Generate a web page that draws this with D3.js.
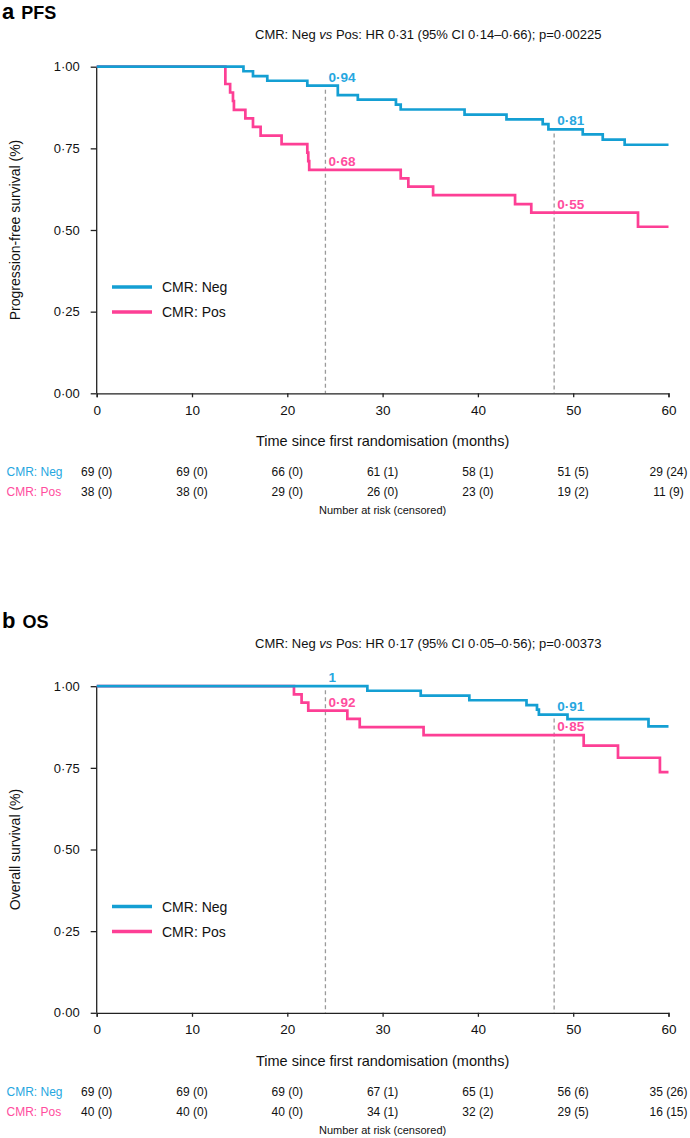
<!DOCTYPE html>
<html>
<head>
<meta charset="utf-8">
<script src="https://cdn.jsdelivr.net/npm/d3@7"></script>
<style>
  html, body { margin: 0; padding: 0; background: #fff; }
  svg { display: block; font-family: "Liberation Sans", Arial, Helvetica, sans-serif; }
</style>
</head>
<body>
<svg id="chart" width="690" height="1138"></svg>
<script>
// ---------- DATA ----------
const monthTicks = [0, 10, 20, 30, 40, 50, 60];
const survTicks = [0, 0.25, 0.5, 0.75, 1];
const groups = ["CMR: Neg", "CMR: Pos"];
const landmarkMonths = [24, 48];

// PFS – step times (months) and survival after each step
const pfsNegTime = [15.4, 16.4, 17.9, 22.1, 25.3, 27.4, 31.4, 31.9, 38.6, 43.0, 46.8, 47.4, 51.0, 53.1, 55.4];
const pfsNegSurv = [0.986, 0.971, 0.957, 0.942, 0.913, 0.899, 0.884, 0.869, 0.853, 0.839, 0.824, 0.808, 0.793, 0.777, 0.761];
const pfsPosTime = [13.5, 14.0, 14.3, 14.4, 15.6, 16.4, 17.2, 19.4, 22.1, 22.2, 22.3, 31.9, 32.7, 35.3, 43.9, 45.6, 56.8];
const pfsPosSurv = [0.947, 0.921, 0.895, 0.868, 0.842, 0.816, 0.789, 0.763, 0.737, 0.711, 0.684, 0.658, 0.633, 0.607, 0.579, 0.553, 0.510];
const pfsLandNeg = ["0·94", "0·81"];
const pfsLandPos = ["0·68", "0·55"];
const pfsLandNegVal = [0.942, 0.808];
const pfsLandPosVal = [0.684, 0.553];
const pfsRiskNeg = ["69 (0)", "69 (0)", "66 (0)", "61 (1)", "58 (1)", "51 (5)", "29 (24)"];
const pfsRiskPos = ["38 (0)", "38 (0)", "29 (0)", "26 (0)", "23 (0)", "19 (2)", "11 (9)"];

// OS
const osNegTime = [28.4, 34.0, 39.1, 45.1, 46.2, 46.4, 49.4, 57.9];
const osNegSurv = [0.986, 0.971, 0.957, 0.942, 0.928, 0.913, 0.899, 0.877];
const osPosTime = [20.7, 21.5, 22.2, 26.3, 27.6, 34.3, 51.1, 54.7, 59.1];
const osPosSurv = [0.975, 0.950, 0.925, 0.900, 0.875, 0.850, 0.818, 0.781, 0.737];
const osLandNeg = ["1", "0·91"];
const osLandPos = ["0·92", "0·85"];
const osLandNegVal = [1.0, 0.913];
const osLandPosVal = [0.925, 0.850];
const osRiskNeg = ["69 (0)", "69 (0)", "69 (0)", "67 (1)", "65 (1)", "56 (6)", "35 (26)"];
const osRiskPos = ["40 (0)", "40 (0)", "40 (0)", "34 (1)", "32 (2)", "29 (5)", "16 (15)"];

// ---------- STYLE ----------
const BLUE = "#149fd3";
const PINK = "#fd3f95";
const BLUE_TXT = "#27a7df";
const PINK_TXT = "#ff4d9e";

const svg = d3.select("#chart");
const X0 = 96.7, X1 = 668.5;
const x = d3.scaleLinear().domain([0, 60]).range([X0, X1]);
const fmtY = d => d3.format(".2f")(d).replace(".", "·");

function drawPanel(cfg) {
  const g = svg.append("g").attr("transform", `translate(0,${cfg.dy})`);
  const y = d3.scaleLinear().domain([0, 1]).range([393.3, 66.7]);

  // title + HR text (own offset)
  const gt = svg.append("g").attr("transform", `translate(0,${cfg.titleDy})`);
  const t = gt.append("text").attr("x", 2).attr("y", 18.5).attr("font-weight", "bold").attr("fill", "#000");
  t.append("tspan").attr("font-size", 22).text(cfg.letter);
  t.append("tspan").attr("font-size", 18).attr("dx", 7).text(cfg.title);

  const hr = gt.append("text").attr("x", 255).attr("y", 38.5).attr("font-size", 13).attr("fill", "#111");
  hr.append("tspan").text("CMR: Neg ");
  hr.append("tspan").attr("font-style", "italic").text("vs");
  hr.append("tspan").text(cfg.hr);

  // landmark dashed lines
  landmarkMonths.forEach((m, i) => {
    g.append("line")
      .attr("x1", x(m)).attr("x2", x(m))
      .attr("y1", y(cfg.landNegVal[i]) + 4).attr("y2", y(0))
      .attr("stroke", "#9a9a9a").attr("stroke-width", 1.3)
      .attr("stroke-dasharray", "4,3");
  });

  // axes
  const xAxis = d3.axisBottom(x).tickValues(monthTicks).tickSize(4).tickPadding(8).tickFormat(d3.format("d"));
  const gx = g.append("g").attr("transform", `translate(0,${y(0)})`).call(xAxis);
  gx.select(".domain").attr("stroke", "#222").attr("stroke-width", 1.3);
  gx.selectAll(".tick line").attr("stroke", "#222").attr("stroke-width", 1.3);
  gx.selectAll("text").attr("font-size", 13.5).attr("fill", "#111").attr("font-family", "Liberation Sans, Arial, sans-serif");

  const yAxis = d3.axisLeft(y).tickValues(survTicks).tickSize(6).tickPadding(11).tickFormat(fmtY);
  const gy = g.append("g").attr("transform", `translate(${X0},0)`).call(yAxis);
  gy.select(".domain").attr("stroke", "#222").attr("stroke-width", 1.3).attr("d", `M0,${y(1)}V${y(0)}`);
  gy.selectAll(".tick line").attr("stroke", "#222").attr("stroke-width", 1.3);
  gy.selectAll("text").attr("font-size", 13).attr("fill", "#111").attr("font-family", "Liberation Sans, Arial, sans-serif");

  // axis titles
  g.append("text").attr("x", (X0 + X1) / 2).attr("y", 446).attr("text-anchor", "middle")
    .attr("font-size", 14.5).attr("fill", "#111").text("Time since first randomisation (months)");
  g.append("text").attr("transform", `translate(20,${(y(0) + y(1)) / 2}) rotate(-90)`)
    .attr("text-anchor", "middle").attr("font-size", 14).attr("fill", "#111").text(cfg.ylabel);

  // curves
  const line = d3.line().x(d => x(d[0])).y(d => y(d[1])).curve(d3.curveStepAfter);
  const mk = (times, surv) => {
    const pts = [[0, 1]];
    times.forEach((tt, i) => pts.push([tt, surv[i]]));
    pts.push([60, surv[surv.length - 1]]);
    return pts;
  };
  g.append("path").datum(mk(cfg.posTime, cfg.posSurv)).attr("d", line)
    .attr("fill", "none").attr("stroke", PINK).attr("stroke-width", 2.7);
  g.append("path").datum(mk(cfg.negTime, cfg.negSurv)).attr("d", line)
    .attr("fill", "none").attr("stroke", BLUE).attr("stroke-width", 2.7);

  // landmark labels
  landmarkMonths.forEach((m, i) => {
    g.append("text").attr("x", x(m) + 3).attr("y", y(cfg.landNegVal[i]) - 4)
      .attr("font-size", 13.5).attr("font-weight", "bold").attr("fill", BLUE_TXT).text(cfg.landNeg[i]);
    g.append("text").attr("x", x(m) + 3).attr("y", y(cfg.landPosVal[i]) - 4)
      .attr("font-size", 13.5).attr("font-weight", "bold").attr("fill", PINK_TXT).text(cfg.landPos[i]);
  });

  // legend
  [[groups[0], BLUE, 287], [groups[1], PINK, 312]].forEach(([lab, col, ly]) => {
    g.append("line").attr("x1", 112).attr("x2", 152).attr("y1", ly).attr("y2", ly)
      .attr("stroke", col).attr("stroke-width", 3.5);
    g.append("text").attr("x", 162).attr("y", ly + 5).attr("font-size", 14).attr("fill", "#111").text(lab);
  });

  // risk table
  [[groups[0], BLUE_TXT, cfg.riskNeg, 476], [groups[1], PINK_TXT, cfg.riskPos, 496]].forEach(([lab, col, vals, ry]) => {
    g.append("text").attr("x", 6.5).attr("y", ry).attr("font-size", 12).attr("fill", col).text(lab);
    g.selectAll(null).data(vals).enter().append("text")
      .attr("x", (d, i) => x(monthTicks[i])).attr("y", ry)
      .attr("text-anchor", "middle").attr("font-size", 12).attr("fill", "#111").text(d => d);
  });
  g.append("text").attr("x", (X0 + X1) / 2).attr("y", 514).attr("text-anchor", "middle")
    .attr("font-size", 11).attr("fill", "#111").text("Number at risk (censored)");
}

drawPanel({
  dy: 0, titleDy: 0, letter: "a", title: "PFS", ylabel: "Progression-free survival (%)",
  hr: " Pos: HR 0·31 (95% CI 0·14–0·66); p=0·00225",
  negTime: pfsNegTime, negSurv: pfsNegSurv, posTime: pfsPosTime, posSurv: pfsPosSurv,
  landNeg: pfsLandNeg, landPos: pfsLandPos, landNegVal: pfsLandNegVal, landPosVal: pfsLandPosVal,
  riskNeg: pfsRiskNeg, riskPos: pfsRiskPos
});
drawPanel({
  dy: 619.5, titleDy: 609.5, letter: "b", title: "OS", ylabel: "Overall survival (%)",
  hr: " Pos: HR 0·17 (95% CI 0·05–0·56); p=0·00373",
  negTime: osNegTime, negSurv: osNegSurv, posTime: osPosTime, posSurv: osPosSurv,
  landNeg: osLandNeg, landPos: osLandPos, landNegVal: osLandNegVal, landPosVal: osLandPosVal,
  riskNeg: osRiskNeg, riskPos: osRiskPos
});
</script>
</body>
</html>
